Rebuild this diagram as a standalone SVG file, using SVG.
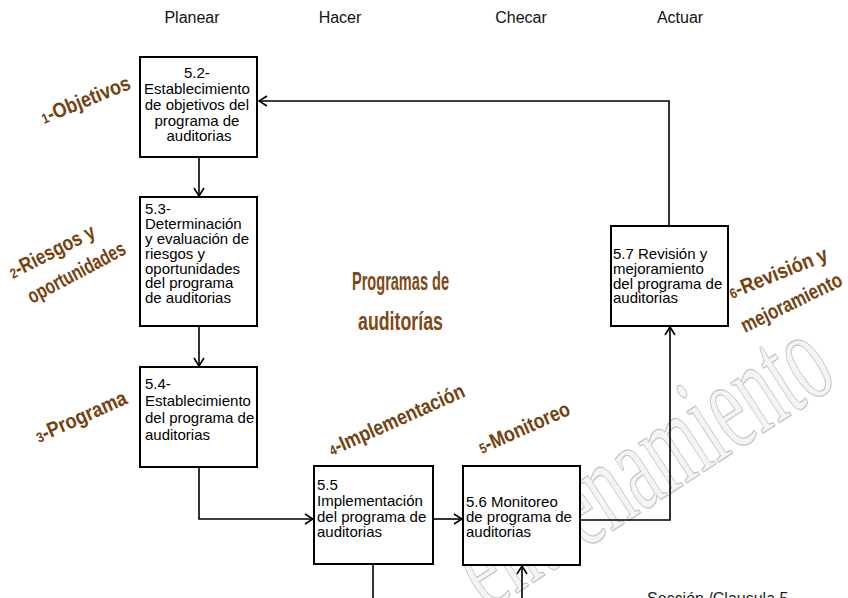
<svg xmlns="http://www.w3.org/2000/svg" width="848" height="598" viewBox="0 0 848 598">
<defs>
<style>
.box{fill:#fff;stroke:#000;stroke-width:2}
.bt{font-family:"Liberation Sans",Arial,sans-serif;font-size:15px;fill:#000}
.hdr{font-family:"Liberation Sans",Arial,sans-serif;font-size:16px;fill:#111;text-anchor:middle}
.lbl{font-family:"Liberation Sans",Arial,sans-serif;font-size:21px;font-weight:bold;fill:#74420f}
.num{font-size:14px}
.title{font-family:"Liberation Sans",Arial,sans-serif;font-size:25px;font-weight:bold;fill:#7d4a16;text-anchor:middle}
.conn{fill:none;stroke:#000;stroke-width:1.6}
.wm{font-family:"Liberation Serif","Times New Roman",serif;font-size:130px;fill:#f4f4f4;stroke:#c4c4c4;stroke-width:1.3}
</style>
<marker id="arr" markerWidth="10" markerHeight="12" refX="9" refY="6" orient="auto" markerUnits="userSpaceOnUse">
<path d="M1,1 L9,6 L1,11" fill="none" stroke="#000" stroke-width="1.6"/>
</marker>
</defs>
<rect width="848" height="598" fill="#fff"/>

<g id="watermark">
<text class="wm" x="488" y="612" transform="rotate(-33 488 612)" textLength="420" lengthAdjust="spacingAndGlyphs">entrenamiento</text>
</g>

<g id="headers">
<text class="hdr" x="192" y="23">Planear</text>
<text class="hdr" x="340" y="23">Hacer</text>
<text class="hdr" x="521" y="23">Checar</text>
<text class="hdr" x="680" y="23">Actuar</text>
</g>

<g id="connectors">
<path class="conn" d="M669,226 V101 H259" marker-end="url(#arr)"/>
<path class="conn" d="M199,157 V196" marker-end="url(#arr)"/>
<path class="conn" d="M199,326 V366" marker-end="url(#arr)"/>
<path class="conn" d="M199,467 V519 H313" marker-end="url(#arr)"/>
<path class="conn" d="M433,519 H462" marker-end="url(#arr)"/>
<path class="conn" d="M580,520 H670 V327" marker-end="url(#arr)"/>
<path class="conn" d="M373,564 V598"/>
<path class="conn" d="M522,598 V566" marker-end="url(#arr)"/>
</g>

<g id="n52">
<rect class="box" x="140" y="57" width="117" height="100"/>
<text class="bt" text-anchor="middle">
<tspan x="199" y="78">5.2-</tspan>
<tspan x="199" y="94">Establecimiento</tspan>
<tspan x="199" y="110">de objetivos del</tspan>
<tspan x="199" y="125.5">programa de</tspan>
<tspan x="199" y="141">auditorias</tspan>
</text>
</g>

<g id="n53">
<rect class="box" x="140" y="197" width="117" height="129"/>
<text class="bt">
<tspan x="145" y="214">5.3-</tspan>
<tspan x="145" y="229">Determinación</tspan>
</text>
<text class="bt" x="145" y="244" textLength="104" lengthAdjust="spacingAndGlyphs">y evaluación de</text>
<text class="bt">
<tspan x="145" y="258.5">riesgos y</tspan>
<tspan x="145" y="273.5">oportunidades</tspan>
<tspan x="145" y="288">del programa</tspan>
<tspan x="145" y="303">de auditorias</tspan>
</text>
</g>

<g id="n54">
<rect class="box" x="140" y="367" width="117" height="100"/>
<text class="bt">
<tspan x="145" y="389">5.4-</tspan>
<tspan x="145" y="406">Establecimiento</tspan>
<tspan x="145" y="423">del programa de</tspan>
<tspan x="145" y="440">auditorias</tspan>
</text>
</g>

<g id="n55">
<rect class="box" x="314" y="466" width="119" height="98"/>
<text class="bt">
<tspan x="317" y="490">5.5</tspan>
<tspan x="317" y="506">Implementación</tspan>
<tspan x="317" y="522">del programa de</tspan>
<tspan x="317" y="537">auditorias</tspan>
</text>
</g>

<g id="n56">
<rect class="box" x="463" y="466" width="117" height="99"/>
<text class="bt">
<tspan x="466" y="507">5.6 Monitoreo</tspan>
<tspan x="466" y="522">de programa de</tspan>
<tspan x="466" y="537">auditorias</tspan>
</text>
</g>

<g id="n57">
<rect class="box" x="611" y="226" width="117" height="100"/>
<text class="bt">
<tspan x="613" y="259">5.7 Revisión y</tspan>
<tspan x="613" y="274">mejoramiento</tspan>
<tspan x="613" y="288.5">del programa de</tspan>
<tspan x="613" y="303">auditorias</tspan>
</text>
</g>

<g id="title">
<text class="title" x="400.5" y="290" textLength="97" lengthAdjust="spacingAndGlyphs">Programas de</text>
<text class="title" x="400.5" y="330" textLength="85" lengthAdjust="spacingAndGlyphs">auditorías</text>
</g>

<g id="labels">
<text class="lbl" x="44" y="124" transform="rotate(-22 44 124)" textLength="95" lengthAdjust="spacingAndGlyphs"><tspan class="num">1</tspan>-Objetivos</text>
<text class="lbl" x="13" y="279" transform="rotate(-27 13 279)" textLength="94" lengthAdjust="spacingAndGlyphs"><tspan class="num">2</tspan>-Riesgos y</text>
<text class="lbl" x="32" y="304" transform="rotate(-28 32 304)" textLength="108" lengthAdjust="spacingAndGlyphs">oportunidades</text>
<text class="lbl" x="39" y="443" transform="rotate(-24 39 443)" textLength="98" lengthAdjust="spacingAndGlyphs"><tspan class="num">3</tspan>-Programa</text>
<text class="lbl" x="332" y="456" transform="rotate(-24 332 456)" textLength="147" lengthAdjust="spacingAndGlyphs"><tspan class="num">4</tspan>-Implementación</text>
<text class="lbl" x="482" y="454" transform="rotate(-24 482 454)" textLength="98" lengthAdjust="spacingAndGlyphs"><tspan class="num">5</tspan>-Monitoreo</text>
<text class="lbl" x="732" y="299" transform="rotate(-22 732 299)" textLength="105" lengthAdjust="spacingAndGlyphs"><tspan class="num">6</tspan>-Revisión y</text>
<text class="lbl" x="745" y="333" transform="rotate(-26 745 333)" textLength="110" lengthAdjust="spacingAndGlyphs">mejoramiento</text>
</g>

<g id="footer">
<text class="bt" x="647" y="604" style="font-size:16px;fill:#222">Sección /Clausula  5</text>
</g>
</svg>
